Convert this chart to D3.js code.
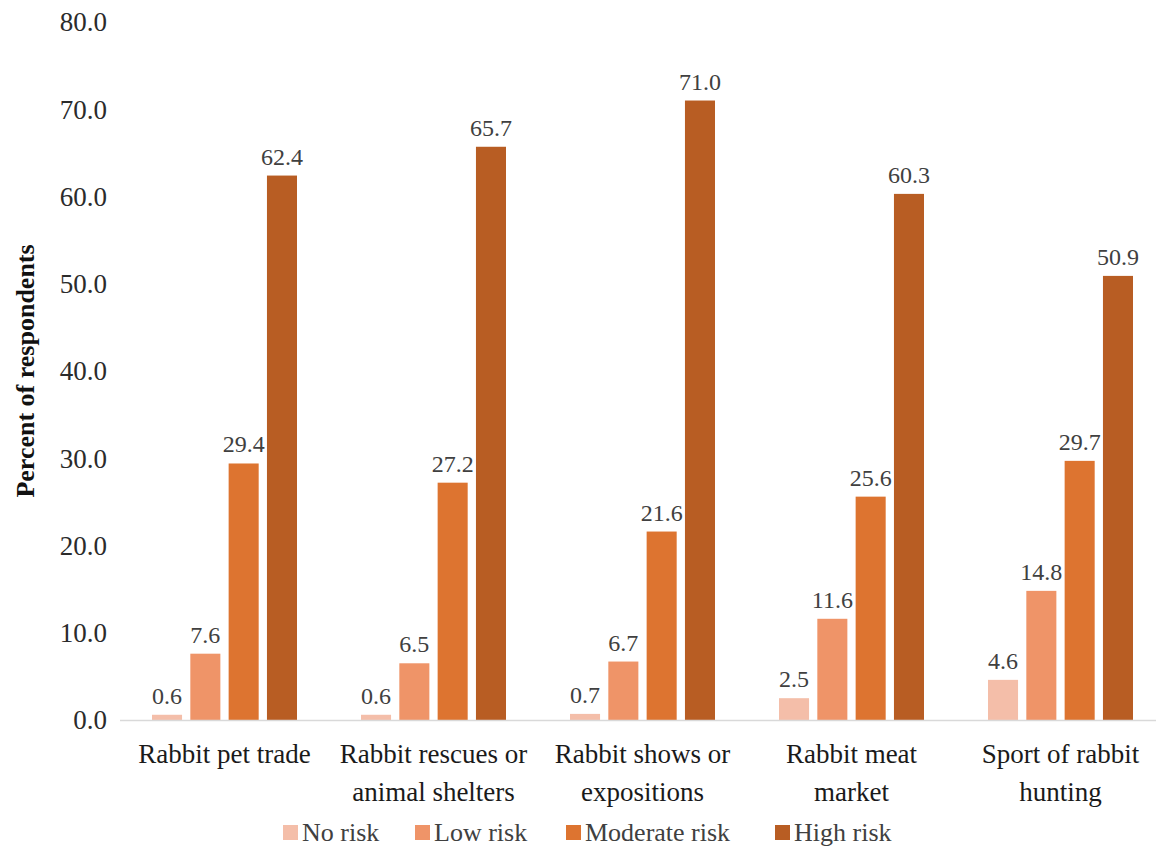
<!DOCTYPE html>
<html>
<head>
<meta charset="utf-8">
<script src="https://cdn.jsdelivr.net/npm/d3@7"></script>
<style>
  html, body { margin: 0; padding: 0; background: #fff; }
  svg { display: block; font-family: "Liberation Serif", "Times New Roman", serif; }
</style>
</head>
<body>
<svg id="chart" width="1156" height="850"></svg>
<script>
// Perceived risk of disease spread, by rabbit-related activity
const categories = [
  ["Rabbit pet trade"],
  ["Rabbit rescues or", "animal shelters"],
  ["Rabbit shows or", "expositions"],
  ["Rabbit meat", "market"],
  ["Sport of rabbit", "hunting"]
];
const seriesNames = ["No risk", "Low risk", "Moderate risk", "High risk"];
const noRisk = [0.6, 0.6, 0.7, 2.5, 4.6];
const lowRisk = [7.6, 6.5, 6.7, 11.6, 14.8];
const moderateRisk = [29.4, 27.2, 21.6, 25.6, 29.7];
const highRisk = [62.4, 65.7, 71.0, 60.3, 50.9];
const yTicks = [0, 10, 20, 30, 40, 50, 60, 70, 80];

const seriesValues = [noRisk, lowRisk, moderateRisk, highRisk];
const colors = ["#F4BEA9", "#EF9468", "#DD7430", "#B85D23"];

const svg = d3.select("#chart");
const plotBottom = 720;
const groupWidth = 145;

const x0 = d3.scaleBand()
  .domain(d3.range(categories.length))
  .range([120, 1165])
  .paddingInner(0)
  .paddingOuter(0);

const x1 = d3.scaleBand()
  .domain(d3.range(seriesNames.length))
  .range([0, groupWidth])
  .paddingInner(0.216)
  .paddingOuter(0);

const y = d3.scaleLinear().domain([0, 80]).range([plotBottom, 22]);

// y tick labels (no axis line, no tick marks)
svg.append("g")
  .selectAll("text")
  .data(yTicks)
  .join("text")
  .attr("x", 107)
  .attr("y", d => y(d))
  .attr("dy", "0.35em")
  .attr("text-anchor", "end")
  .attr("fill", "#2b2b2b")
  .style("font-size", "27px")
  .text(d => d3.format(".1f")(d));

// y axis title
svg.append("text")
  .attr("transform", `translate(25, ${y(40)}) rotate(-90)`)
  .attr("dy", "0.35em")
  .attr("text-anchor", "middle")
  .attr("fill", "#111")
  .style("font-size", "26px")
  .style("font-weight", "bold")
  .text("Percent of respondents");

// bars
const groups = svg.append("g")
  .selectAll("g")
  .data(categories.map((c, i) => i))
  .join("g")
  .attr("transform", i => `translate(${x0(i) + (x0.bandwidth() - groupWidth) / 2}, 0)`);

groups.selectAll("rect")
  .data(i => seriesValues.map((s, k) => ({ k, v: s[i] })))
  .join("rect")
  .attr("x", d => x1(d.k))
  .attr("width", x1.bandwidth())
  .attr("y", d => y(d.v))
  .attr("height", d => plotBottom - y(d.v))
  .attr("fill", d => colors[d.k]);

groups.selectAll("text.val")
  .data(i => seriesValues.map((s, k) => ({ k, v: s[i] })))
  .join("text")
  .attr("class", "val")
  .attr("x", d => x1(d.k) + x1.bandwidth() / 2)
  .attr("y", d => y(d.v) - 11)
  .attr("text-anchor", "middle")
  .attr("fill", "#404040")
  .style("font-size", "24px")
  .text(d => d3.format(".1f")(d.v));

// baseline
svg.append("line")
  .attr("x1", 120).attr("x2", 1165)
  .attr("y1", plotBottom + 0.5).attr("y2", plotBottom + 0.5)
  .attr("stroke", "#d9d9d9")
  .attr("stroke-width", 1.5);

// category labels
const catLabels = svg.append("g")
  .selectAll("text")
  .data(categories)
  .join("text")
  .attr("text-anchor", "middle")
  .attr("fill", "#1a1a1a")
  .style("font-size", "27px")
  .attr("transform", (d, i) => `translate(${x0(i) + x0.bandwidth() / 2}, 763)`);

catLabels.selectAll("tspan")
  .data(d => d)
  .join("tspan")
  .attr("x", 0)
  .attr("dy", (d, j) => j === 0 ? 0 : 38)
  .text(d => d);

// legend
const legendX = [283, 415, 566, 775];
const legend = svg.append("g")
  .selectAll("g")
  .data(seriesNames)
  .join("g")
  .attr("transform", (d, i) => `translate(${legendX[i]}, 832)`);

legend.append("rect")
  .attr("x", 0).attr("y", -7)
  .attr("width", 15).attr("height", 15)
  .attr("fill", (d, i) => colors[i]);

legend.append("text")
  .attr("x", 19).attr("y", 0)
  .attr("dy", "0.35em")
  .attr("fill", "#404040")
  .style("font-size", "26px")
  .text(d => d);
</script>
</body>
</html>
